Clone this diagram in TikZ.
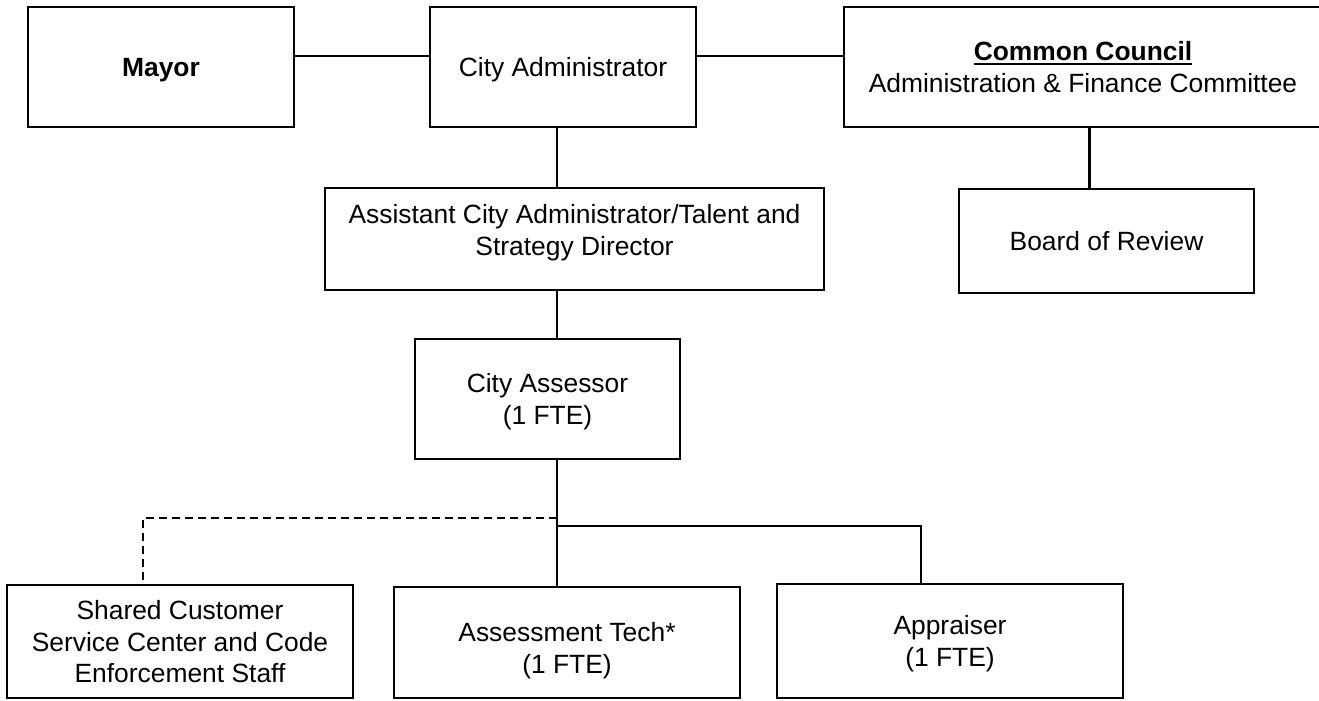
\documentclass[tikz,border=0pt]{standalone}
\usepackage{fontspec}
\setmainfont{Liberation Sans}
\usetikzlibrary{calc}

% text size used in every box
\newcommand\boxfont{\fontsize{19.8pt}{23.5pt}\selectfont}
% bold text with a heavy underline
\newcommand\ulbold[1]{\setbox0\hbox{\bfseries #1}\rlap{\rule[-3pt]{\wd0}{1.4pt}}\box0}

\begin{document}
\begin{tikzpicture}[x=0.75pt,y=-0.75pt,
  every node/.style={font=\boxfont, align=center, inner sep=0pt, outer sep=0pt, text depth=0pt},
  orgbox/.style 2 args={draw, line width=2.2pt, minimum width=#1*0.75pt, minimum height=#2*0.75pt},
  link/.style={line width=1.7pt},
  dashlink/.style={line width=1.6pt, dash pattern=on 6pt off 3.75pt}]

\useasboundingbox (0,0) rectangle (1319,700);

% boxes
\node[orgbox={266}{120}] (mayor) at (161,67) {\bfseries Mayor};
\node[orgbox={266}{120}] (admin) at (563,67) {City Administrator};
\node[orgbox={478}{120}] (council) at (1083,67) {\ulbold{Common Council}\\Administration \& Finance Committee};
\node[orgbox={295}{104}] (board) at (1106.5,241) {Board of Review};
\node[orgbox={499}{102}, line width=0.9pt] (assistant) at (574.5,239) {};
\node (assistanttext) at (574.5,230) {Assistant City Administrator/Talent and\\Strategy Director};
\node[orgbox={265}{120}] (assessor) at (547.5,399) {City Assessor\\(1 FTE)};
\node[orgbox={346}{113}] (shared) at (180,641.5) {Shared Customer\\Service Center and Code\\Enforcement Staff};
\node[orgbox={346}{111}] (tech) at (567,642.5) {};
\node (techtext) at (567,648) {Assessment Tech*\\(1 FTE)};
\node[orgbox={346}{114}] (appraiser) at (950,641) {Appraiser\\(1 FTE)};

% reference lines for the connectors
\coordinate (toprow) at (0,56);
\coordinate (spine) at (557,0);
\coordinate (councilspine) at (1089.5,0);
\coordinate (dashbar) at (143,518);
\coordinate (solidbar) at (921,526);

% connectors
\draw[link] (mayor.east |- toprow) -- (admin.west |- toprow);
\draw[link] (admin.east |- toprow) -- (council.west |- toprow);
\draw[link] (admin.south -| spine) -- (assistant.north -| spine);
\draw[link] (assistant.south -| spine) -- (assessor.north -| spine);
\draw[link] (assessor.south -| spine) -- (tech.north -| spine);
\draw[link] (council.south -| councilspine) -- (board.north -| councilspine);
\draw[dashlink] (spine |- dashbar) -- (dashbar) -- (shared.north -| dashbar);
\draw[link] (spine |- solidbar) -- (solidbar) -- (appraiser.north -| solidbar);
\end{tikzpicture}
\end{document}
